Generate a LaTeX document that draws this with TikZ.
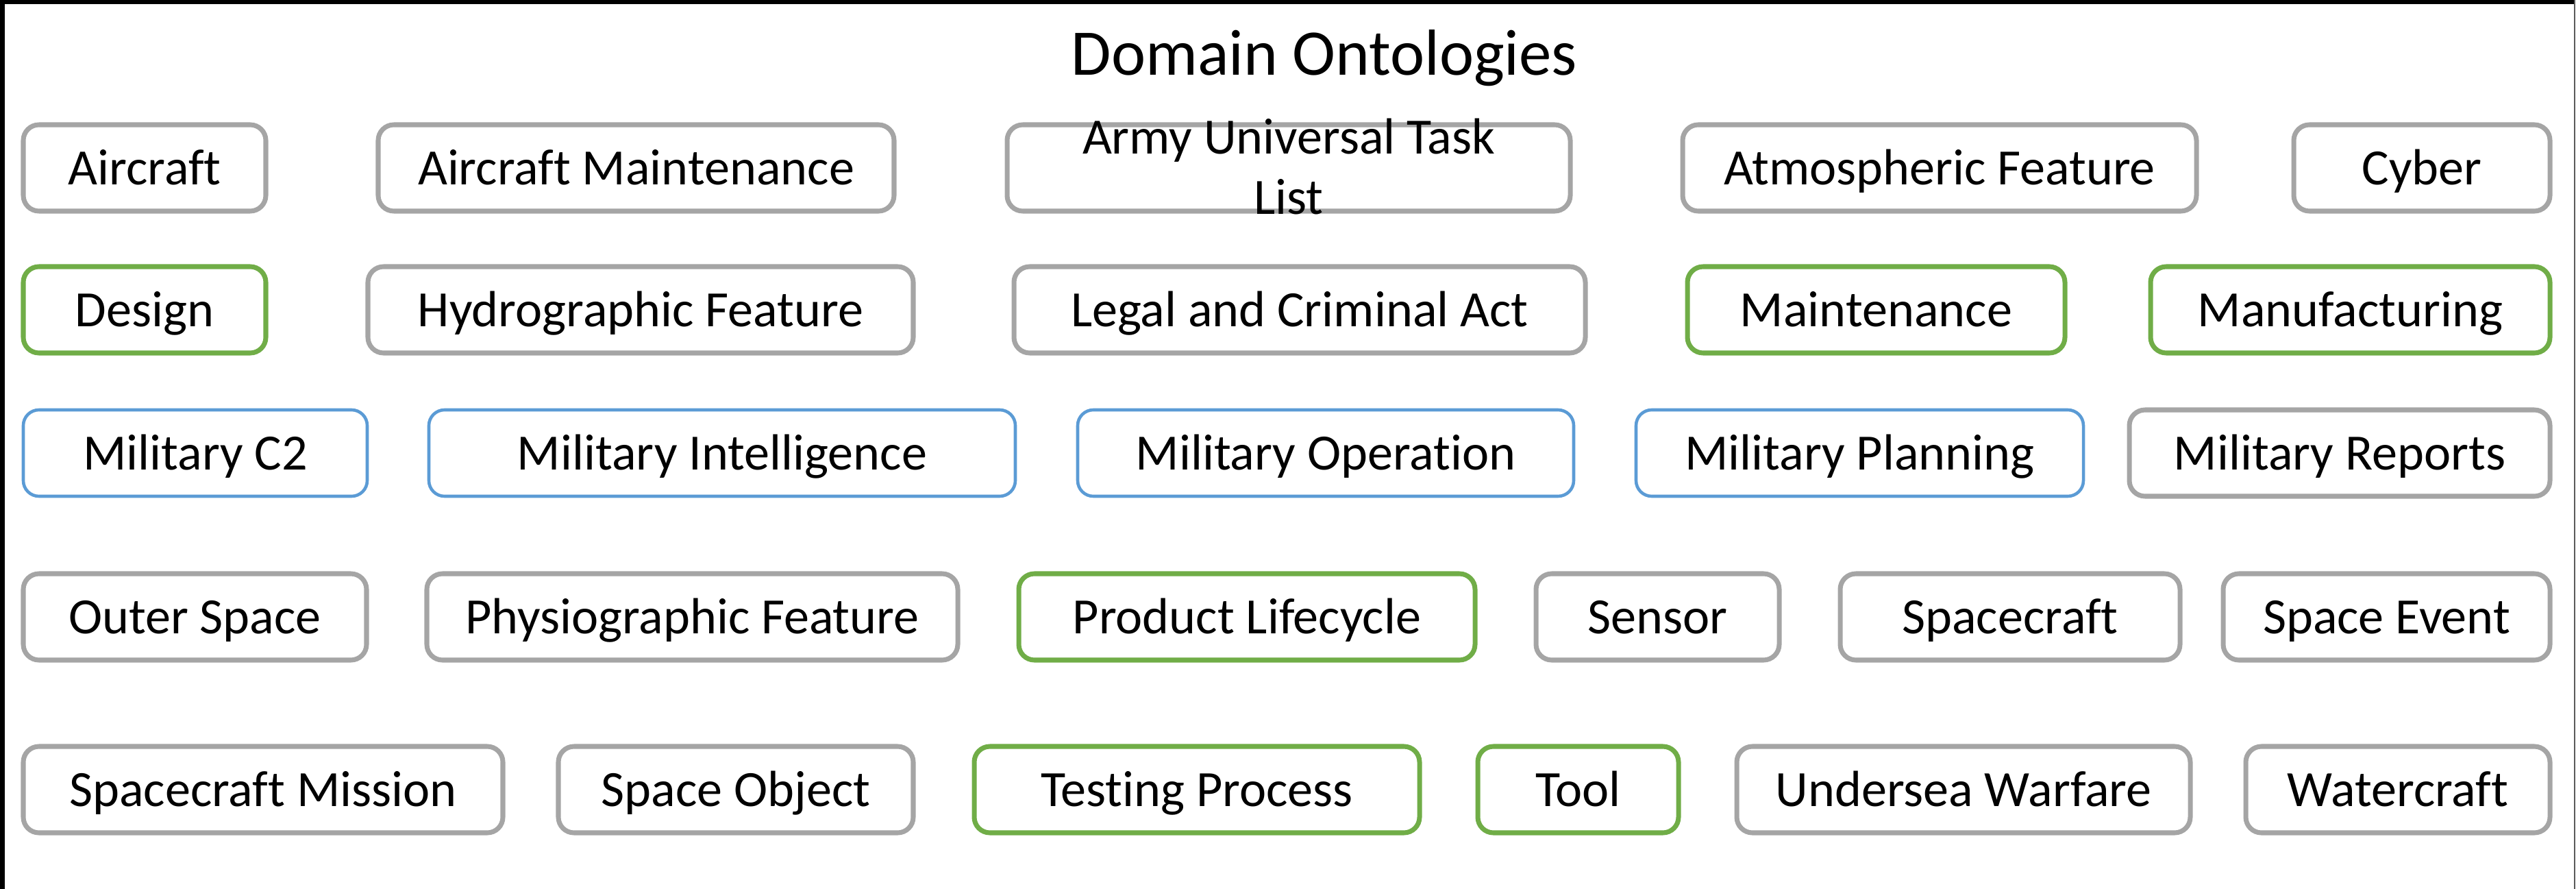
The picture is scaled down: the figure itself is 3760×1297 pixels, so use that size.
\documentclass[tikz,border=0pt]{standalone}
\usepackage{fontspec}
\setmainfont{Carlito}[Ligatures=NoCommon]
\usetikzlibrary{fit}
\definecolor{boxgray}{HTML}{A5A5A5}
\definecolor{boxgreen}{HTML}{70AD47}
\definecolor{boxblue}{HTML}{5B9BD5}
\tikzset{
  ontobox/.style={draw=#1, line width=2pt, rounded corners=6.5pt, inner sep=0pt, fill=white},
  graybox/.style={ontobox=boxgray},
  greenbox/.style={ontobox=boxgreen},
  bluebox/.style={ontobox=boxblue, line width=1.3pt},
  lbl/.style={font=\fontsize{21.1}{25}\selectfont, inner sep=0pt, anchor=base},
  ttl/.style={font=\fontsize{27}{32}\selectfont, inner sep=0pt, anchor=base},
  frametop/.style={line width=1.85pt, black},
  frameright/.style={line width=0.45pt, black!65},
}
\newcommand\ob[6]{%
  \node[#2, fit={(#3,#5-63)(#4,#5+63)}] (#1) {};
  \node[lbl] (#1-t) at ({(#3+#4)/2},#5+24) {#6};
}
\begin{document}
\begin{tikzpicture}[x=0.01cm, y=-0.01cm]
\useasboundingbox (0,0) rectangle (3760,1297);
% frame
\coordinate (fbl) at (3.25,1297);
\coordinate (ftl) at (3.25,3.25);
\coordinate (ftr) at (3757,3.25);
\coordinate (frt) at (3758,0);
\coordinate (frb) at (3758,1297);
\draw[frameright] (frt) -- (frb);
\draw[frametop] (fbl) -- (ftl) -- (ftr);
% title
\node[ttl] (title) at (1933,110) {Domain Ontologies};
% row 1
\ob{aircraft}{graybox}{34}{388}{245}{Aircraft}
\ob{aircraftmaint}{graybox}{552}{1305}{245}{Aircraft Maintenance}
\node[graybox, fit={(1470,182)(2292,308)}] (army) {};
\node[lbl] (army-t1) at (1881,225) {Army Universal Task};
\node[lbl] (army-t2) at (1881,313) {List};
\ob{atmos}{graybox}{2456}{3206}{245}{Atmospheric Feature}
\ob{cyber}{graybox}{3348}{3722}{245}{Cyber}
% row 2
\ob{design}{greenbox}{34}{388}{452}{Design}
\ob{hydro}{graybox}{537}{1333}{452}{Hydrographic Feature}
\ob{legal}{graybox}{1480}{2314}{452}{Legal and Criminal Act}
\ob{maint}{greenbox}{2463}{3014}{452}{Maintenance}
\ob{manuf}{greenbox}{3139}{3722}{452}{Manufacturing}
% row 3
\ob{milc2}{bluebox}{34}{536}{661}{Military C2}
\ob{milint}{bluebox}{626}{1482}{661}{Military Intelligence}
\ob{milop}{bluebox}{1573}{2297}{661}{Military Operation}
\ob{milplan}{bluebox}{2388}{3041}{661}{Military Planning}
\ob{milrep}{graybox}{3108}{3722}{661}{Military Reports}
% row 4
\ob{outer}{graybox}{34}{535}{900}{Outer Space}
\ob{physio}{graybox}{623}{1398}{900}{Physiographic Feature}
\ob{prodlife}{greenbox}{1487}{2153}{900}{Product Lifecycle}
\ob{sensor}{graybox}{2242}{2597}{900}{Sensor}
\ob{spacecraft}{graybox}{2686}{3182}{900}{Spacecraft}
\ob{spaceevent}{graybox}{3245}{3722}{900}{Space Event}
% row 5
\ob{scmission}{graybox}{34}{734}{1152}{Spacecraft Mission}
\ob{spaceobj}{graybox}{815}{1333}{1152}{Space Object}
\ob{testing}{greenbox}{1422}{2072}{1152}{Testing Process}
\ob{tool}{greenbox}{2157}{2450}{1152}{Tool}
\ob{undersea}{graybox}{2535}{3197}{1152}{Undersea Warfare}
\ob{watercraft}{graybox}{3278}{3722}{1152}{Watercraft}
\end{tikzpicture}
\end{document}
